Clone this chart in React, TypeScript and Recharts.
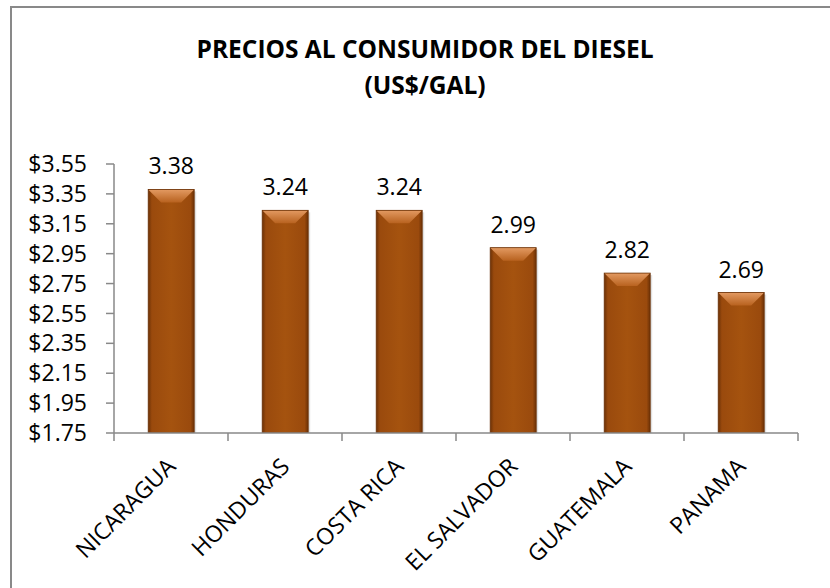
import React from 'react';
import { BarChart, Bar, XAxis, YAxis, LabelList } from 'recharts';

const countries = ['NICARAGUA', 'HONDURAS', 'COSTA RICA', 'EL SALVADOR', 'GUATEMALA', 'PANAMA'];
const prices = [3.38, 3.24, 3.24, 2.99, 2.82, 2.69];
const yTicks = [1.75, 1.95, 2.15, 2.35, 2.55, 2.75, 2.95, 3.15, 3.35, 3.55];
const titleLines = ['PRECIOS AL CONSUMIDOR DEL DIESEL', '(US$/GAL)'];

const data = countries.map((c, i) => ({ country: c, price: prices[i] }));

const FONT = "'Open Sans', 'DejaVu Sans', sans-serif";
const AXIS = '#888888';

const XTick = (props: any) => {
  const { x, y, payload, index, visibleTicksCount, width } = props;
  const half = payload && payload.offset > 0 ? payload.offset : width / visibleTicksCount / 2;
  return (
    <g>
      <line x1={x - half} x2={x - half} y1={y} y2={y + 8} stroke={AXIS} strokeWidth={1.5} />
      {index === visibleTicksCount - 1 && (
        <line x1={x + half} x2={x + half} y1={y} y2={y + 8} stroke={AXIS} strokeWidth={1.5} />
      )}
      <text
        x={0}
        y={0}
        transform={`translate(${x + 6},${y + 35}) rotate(-45)`}
        textAnchor="end"
        fontSize={23}
        fontFamily={FONT}
        fill="#000"
      >
        {payload.value}
      </text>
    </g>
  );
};

const BevelBar = (props: any) => {
  const { x, y, width: w, height: h, index } = props;
  if (!h || h <= 0) return null;
  const b = Math.min(13, w / 2, h / 2);
  const bodyId = `body${index}`;
  const topId = `top${index}`;
  return (
    <g>
      <defs>
        <linearGradient id={bodyId} x1="0" y1="0" x2="1" y2="0">
          <stop offset="0%" stopColor="#6C3106" />
          <stop offset="8%" stopColor="#9A4A0D" />
          <stop offset="50%" stopColor="#A5530F" />
          <stop offset="92%" stopColor="#9A4A0D" />
          <stop offset="100%" stopColor="#6C3106" />
        </linearGradient>
        <linearGradient id={topId} x1="0" y1="0" x2="0" y2="1">
          <stop offset="0%" stopColor="#E39A62" />
          <stop offset="100%" stopColor="#B8621F" />
        </linearGradient>
      </defs>
      <rect x={x + 2} y={y + 2} width={w} height={h} fill="#000" opacity={0.12} />
      <rect x={x} y={y} width={w} height={h} fill={`url(#${bodyId})`} />
      <polygon
        points={`${x},${y} ${x + w},${y} ${x + w - b},${y + b} ${x + b},${y + b}`}
        fill={`url(#${topId})`}
      />
      <rect x={x} y={y} width={w} height={h} fill="none" stroke="#6A3005" strokeWidth={0.8} />
    </g>
  );
};

export default function App() {
  return (
    <div
      style={{
        position: 'absolute',
        left: 0,
        top: 0,
        width: 830,
        height: 588,
        overflow: 'hidden',
        background: '#fff',
        fontFamily: FONT,
      }}
    >
      <div
        style={{
          position: 'absolute',
          left: 10,
          top: 6,
          width: 840,
          height: 610,
          border: '2px solid #898989',
          boxSizing: 'border-box',
        }}
      />
      <div style={{ position: 'absolute', left: 0, top: 0 }}>
        <BarChart
          width={830}
          height={588}
          data={data}
          margin={{ top: 164, right: 32, left: 0, bottom: 55 }}
          barCategoryGap="30%"
        >
          <XAxis
            dataKey="country"
            type="category"
            height={100}
            interval={0}
            tickLine={false}
            tickSize={0}
            tickMargin={0}
            axisLine={{ stroke: AXIS, strokeWidth: 1.5 }}
            tick={<XTick />}
          />
          <YAxis
            type="number"
            domain={[1.75, 3.55]}
            ticks={yTicks}
            interval={0}
            allowDataOverflow
            width={114}
            tickSize={8}
            tickMargin={19}
            tickFormatter={(v: number) => '$' + v.toFixed(2)}
            axisLine={{ stroke: AXIS, strokeWidth: 1.5 }}
            tickLine={{ stroke: AXIS, strokeWidth: 1.5 }}
            tick={{ fill: '#000', fontSize: 23, fontFamily: FONT }}
          />
          <Bar dataKey="price" isAnimationActive={false} shape={<BevelBar />}>
            <LabelList
              dataKey="price"
              position="top"
              offset={15}
              formatter={(v: number) => v.toFixed(2)}
              style={{ fill: '#000', fontSize: 23, fontFamily: FONT }}
            />
          </Bar>
        </BarChart>
      </div>
      <div
        style={{
          position: 'absolute',
          left: 0,
          top: 31,
          width: 850,
          textAlign: 'center',
          fontWeight: 700,
          fontSize: 24.5,
          lineHeight: '36px',
          color: '#000',
          fontFamily: FONT,
        }}
      >
        {titleLines.map((t) => (
          <div key={t}>{t}</div>
        ))}
      </div>
    </div>
  );
}
